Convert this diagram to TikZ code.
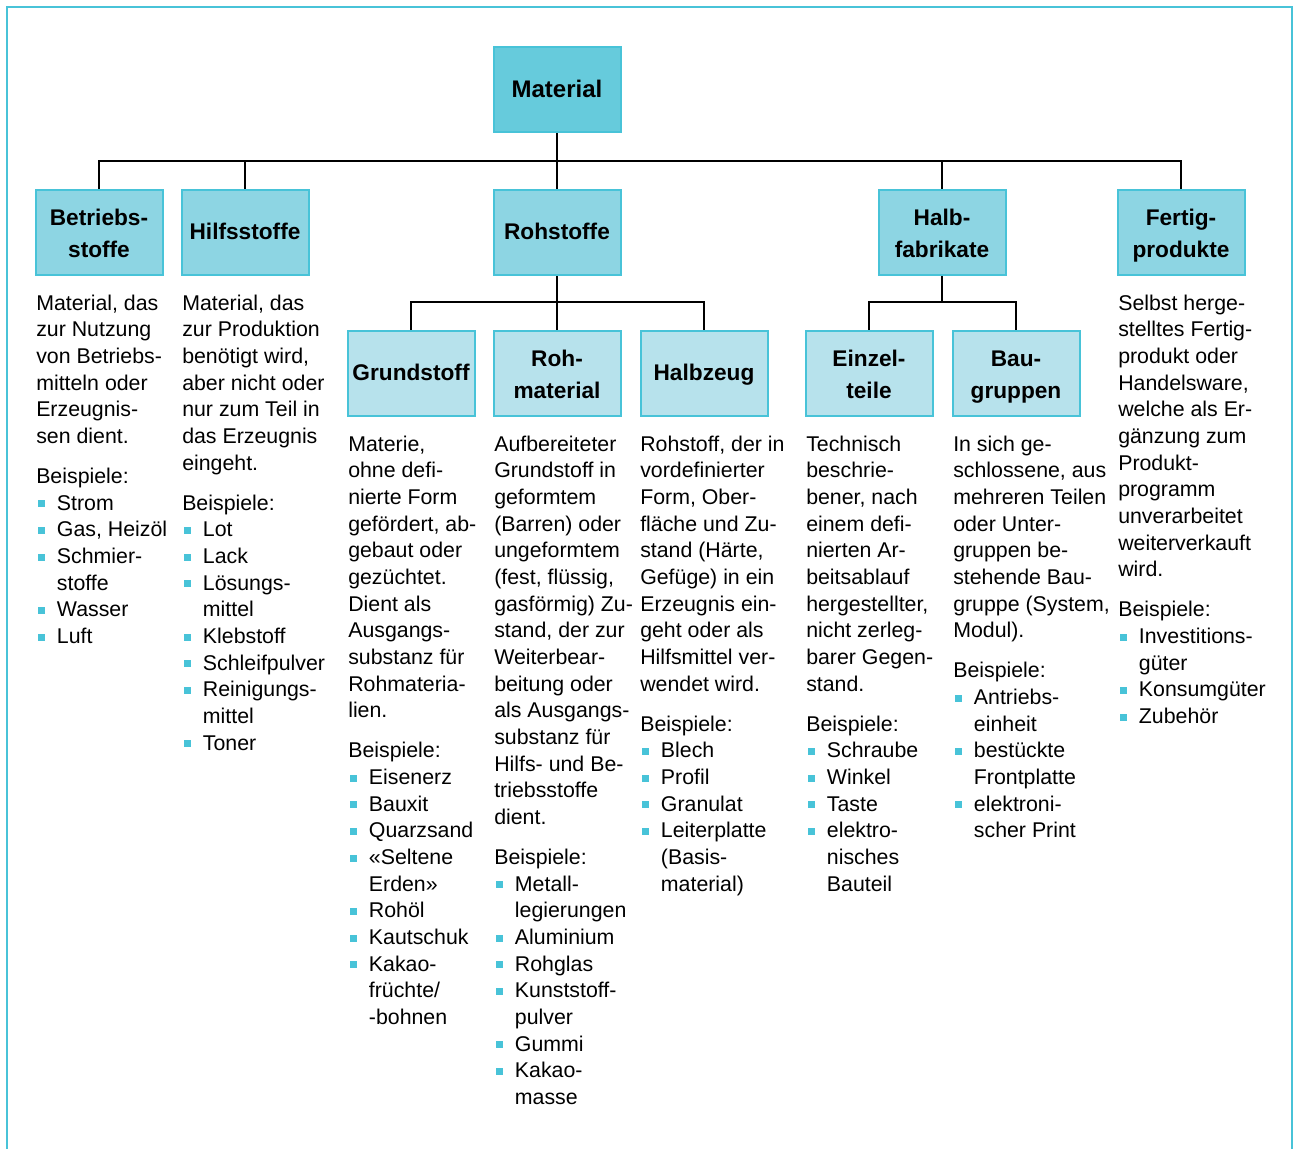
\documentclass[tikz,border=0pt]{standalone}
\usepackage{fontspec}
\setmainfont{Liberation Sans}
\usetikzlibrary{backgrounds}

\definecolor{framec}{HTML}{48C3D8}
\definecolor{topc}{HTML}{66CBDC}
\definecolor{midc}{HTML}{8DD5E3}
\definecolor{lowc}{HTML}{B7E2EC}

% square list bullet and hanging indent for continuation lines
\newcommand\bul{\hspace*{1.5pt}{\color{framec}\rule[2pt]{5.2pt}{5.2pt}}\hspace*{8.8pt}}
\newcommand\ind{\hspace*{15.5pt}}

\begin{document}
\begin{tikzpicture}[x=0.75pt,y=-0.75pt,
  box/.style={draw=framec, line width=1.5pt, minimum width=95.25pt,
    minimum height=63.75pt, inner sep=0pt, align=center,
    font=\fontsize{17}{24}\selectfont\bfseries,
    text height=14.6pt, text depth=4pt},
  % fixed text box for two-line labels, so they sit centred whatever their letters
  twoline/.style={text height=41.6pt, text depth=4pt},
  topbox/.style={box, fill=topc, font=\fontsize{18}{24}\selectfont\bfseries},
  midbox/.style={box, fill=midc},
  lowbox/.style={box, fill=lowc},
  % text blocks: the first line carries a strut, so the top edge lies 14pt above its baseline
  desc/.style={anchor=north west, inner sep=0pt, align=left,
    font=\fontsize{16}{20}\selectfont, execute at begin node=\strut},
  link/.style={line width=1.5pt, black}]

\useasboundingbox (0,0) rectangle (1293,1149);

% open frame
\draw[framec, line width=1.5pt] (7,1149) -- (7,7) -- (1292,7) -- (1292,1149);

% hierarchy boxes
\node[topbox] (material) at (557,90) {Material};

\node[midbox,twoline] (betrieb) at (99,232) {Betriebs-\\stoffe};
\node[midbox] (hilfs)   at (245,232) {Hilfsstoffe};
\node[midbox] (roh)     at (557,232) {Rohstoffe};
\node[midbox,twoline] (halb)    at (942,232) {Halb-\\fabrikate};
\node[midbox,twoline] (fertig)  at (1181,232) {Fertig-\\produkte};

\node[lowbox] (grund)  at (411,373) {Grundstoff};
\node[lowbox,twoline] (rohmat) at (557,373) {Roh-\\material};
\node[lowbox] (halbz)  at (704,373) {Halbzeug};
\node[lowbox,twoline] (einzel) at (869,373) {Einzel-\\teile};
\node[lowbox,twoline] (baugr)  at (1016,373) {Bau-\\gruppen};

% connectors
\coordinate (busA) at (557,161);
\coordinate (busB) at (557,302);
\coordinate (busC) at (942,302);
\begin{scope}[on background layer]
  \draw[link] (material.south) -- (busA);
  \draw[link] (betrieb.north) |- (busA) -| (fertig.north);
  \draw[link] (hilfs.north) -- (hilfs.north |- busA);
  \draw[link] (roh.north) -- (busA);
  \draw[link] (halb.north) -- (halb.north |- busA);
  \draw[link] (roh.south) -- (busB);
  \draw[link] (grund.north) |- (busB) -| (halbz.north);
  \draw[link] (rohmat.north) -- (busB);
  \draw[link] (halb.south) -- (busC);
  \draw[link] (einzel.north) |- (busC) -| (baugr.north);
\end{scope}

% descriptions
\node[desc] (col1) at (36,294.3) {Material, das\\
zur Nutzung\\
von Betriebs-\\
mitteln oder\\
Erzeugnis-\\
sen dient.\\[10pt]
Beispiele:\\
\bul Strom\\
\bul Gas, Heizöl\\
\bul Schmier-\\
\ind stoffe\\
\bul Wasser\\
\bul Luft};

\node[desc] (col2) at (182,294.3) {Material, das\\
zur Produktion\\
benötigt wird,\\
aber nicht oder\\
nur zum Teil in\\
das Erzeugnis\\
eingeht.\\[10pt]
Beispiele:\\
\bul Lot\\
\bul Lack\\
\bul Lösungs-\\
\ind mittel\\
\bul Klebstoff\\
\bul Schleifpulver\\
\bul Reinigungs-\\
\ind mittel\\
\bul Toner};

\node[desc] (col3) at (348,435.3) {Materie,\\
ohne defi-\\
nierte Form\\
gefördert, ab-\\
gebaut oder\\
gezüchtet.\\
Dient als\\
Ausgangs-\\
substanz für\\
Rohmateria-\\
lien.\\[10pt]
Beispiele:\\
\bul Eisenerz\\
\bul Bauxit\\
\bul Quarzsand\\
\bul «Seltene\\
\ind Erden»\\
\bul Rohöl\\
\bul Kautschuk\\
\bul Kakao-\\
\ind früchte/\\
\ind -bohnen};

\node[desc] (col4) at (494,435.3) {Aufbereiteter\\
Grundstoff in\\
geformtem\\
(Barren) oder\\
ungeformtem\\
(fest, flüssig,\\
gasförmig) Zu-\\
stand, der zur\\
Weiterbear-\\
beitung oder\\
als Ausgangs-\\
substanz für\\
Hilfs- und Be-\\
triebsstoffe\\
dient.\\[10pt]
Beispiele:\\
\bul Metall-\\
\ind legierungen\\
\bul Aluminium\\
\bul Rohglas\\
\bul Kunststoff-\\
\ind pulver\\
\bul Gummi\\
\bul Kakao-\\
\ind masse};

\node[desc] (col5) at (640,435.3) {Rohstoff, der in\\
vordefinierter\\
Form, Ober-\\
fläche und Zu-\\
stand (Härte,\\
Gefüge) in ein\\
Erzeugnis ein-\\
geht oder als\\
Hilfsmittel ver-\\
wendet wird.\\[10pt]
Beispiele:\\
\bul Blech\\
\bul Profil\\
\bul Granulat\\
\bul Leiterplatte\\
\ind (Basis-\\
\ind material)};

\node[desc] (col6) at (806,435.3) {Technisch\\
beschrie-\\
bener, nach\\
einem defi-\\
nierten Ar-\\
beitsablauf\\
hergestellter,\\
nicht zerleg-\\
barer Gegen-\\
stand.\\[10pt]
Beispiele:\\
\bul Schraube\\
\bul Winkel\\
\bul Taste\\
\bul elektro-\\
\ind nisches\\
\ind Bauteil};

\node[desc] (col7) at (953,435.3) {In sich ge-\\
schlossene, aus\\
mehreren Teilen\\
oder Unter-\\
gruppen be-\\
stehende Bau-\\
gruppe (System,\\
Modul).\\[10pt]
Beispiele:\\
\bul Antriebs-\\
\ind einheit\\
\bul bestückte\\
\ind Frontplatte\\
\bul elektroni-\\
\ind scher Print};

\node[desc] (col8) at (1118,294.3) {Selbst herge-\\
stelltes Fertig-\\
produkt oder\\
Handelsware,\\
welche als Er-\\
gänzung zum\\
Produkt-\\
programm\\
unverarbeitet\\
weiterverkauft\\
wird.\\[10pt]
Beispiele:\\
\bul Investitions-\\
\ind güter\\
\bul Konsumgüter\\
\bul Zubehör};

\end{tikzpicture}
\end{document}
